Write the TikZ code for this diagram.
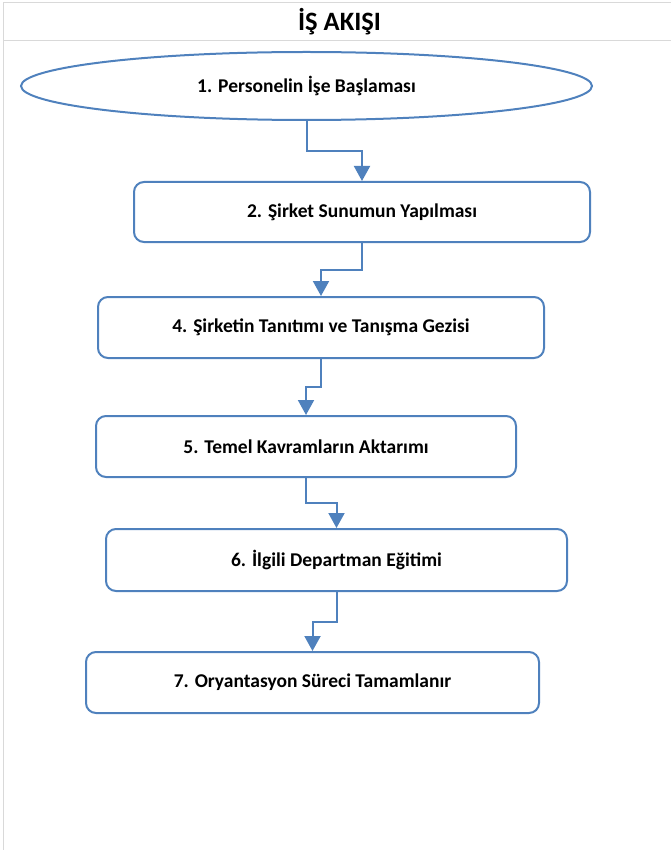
\documentclass[tikz,border=0pt]{standalone}
\usepackage{fontspec}
\setmainfont{Carlito}
\usetikzlibrary{shapes.geometric, calc}
\usetikzlibrary{arrows.meta}

\definecolor{flowblue}{RGB}{79,129,189}
\definecolor{framegray}{RGB}{217,217,217}

\begin{document}
\begin{tikzpicture}[x=1pt, y=-1pt,
    stepbox/.style={draw=flowblue, line width=2pt, rounded corners=10pt, inner sep=0pt,
        font=\bfseries\fontsize{19.5}{23}\selectfont},
    startoval/.style={ellipse, draw=flowblue, line width=2pt, inner sep=0pt,
        font=\bfseries\fontsize{19.5}{23}\selectfont},
    flowarrow/.style={flowblue, line width=2pt, -{Triangle[width=16pt,length=15pt]}}]
        % Fix the page size
        \useasboundingbox (0,0) rectangle (671,850);
        
        % Draw the frame and the title row
        \draw[framegray, line width=1pt] (3,850) -- (3,3) -- (671,3);
        \draw[framegray, line width=1pt] (3,41) -- (671,41);
        \node (title) at (339.5,22) {\bfseries\fontsize{26.5}{31}\selectfont İŞ AKIŞI};
        
        % Draw the start oval and the steps
        \node[startoval, minimum width=571pt, minimum height=68pt] (start) at (306.5,86) {1. Personelin İşe Başlaması};
        \node[stepbox, minimum width=456pt, minimum height=60pt] (sunum) at (362,212) {2. Şirket Sunumun Yapılması};
        \node[stepbox, minimum width=446pt, minimum height=61pt] (gezi) at (321,327.5) {4. Şirketin Tanıtımı ve Tanışma Gezisi};
        \node[stepbox, minimum width=420pt, minimum height=61pt] (kavram) at (306,446.5) {5. Temel Kavramların Aktarımı};
        \node[stepbox, minimum width=461pt, minimum height=62pt] (egitim) at (336.5,560) {6. İlgili Departman Eğitimi};
        \node[stepbox, minimum width=453pt, minimum height=61pt] (son) at (312.5,682.5) {7. Oryantasyon Süreci Tamamlanır};
        
        % Connect the steps
        \draw[flowarrow] (start.south) |- ($(start.south)!0.5!(sunum.north)$) -| (sunum.north);
        \draw[flowarrow] (sunum.south) |- ($(sunum.south)!0.5!(gezi.north)$) -| (gezi.north);
        \draw[flowarrow] (gezi.south) |- ($(gezi.south)!0.5!(kavram.north)$) -| (kavram.north);
        \draw[flowarrow] (kavram.south) |- ($(kavram.south)!0.5!(egitim.north)$) -| (egitim.north);
        \draw[flowarrow] (egitim.south) |- ($(egitim.south)!0.5!(son.north)$) -| (son.north);
    \end{tikzpicture}
\end{document}
